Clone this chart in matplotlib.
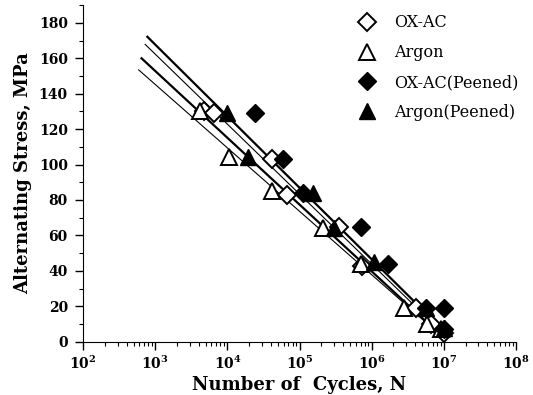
from matplotlib import pyplot as plt
from matplotlib.ticker import LogLocator, NullFormatter, MultipleLocator
import numpy as np

# cycles to failure and stress amplitude for each condition
ox_ac_n = [4.8e3, 6.5e3, 4.2e4, 6.8e4, 3.55e5, 7.4e5, 4.1e6, 6.6e6, 1.0e7]
ox_ac_s = [130, 129, 103, 83, 65, 43, 19, 10, 5]

argon_n = [4.2e3, 1.05e4, 4.1e4, 2.1e5, 7.1e5, 2.8e6, 5.9e6, 9.1e6]
argon_s = [130, 104, 85, 64, 44, 19, 10, 7]

ox_ac_peened_n = [2.45e4, 5.9e4, 1.12e5, 7.1e5, 1.66e6, 5.6e6, 1.0e7, 1.0e7]
ox_ac_peened_s = [129, 103, 84, 65, 44, 19, 19, 7]

argon_peened_n = [9.8e3, 1.9e4, 1.55e5, 3.0e5, 1.07e6, 5.6e6, 1.0e7]
argon_peened_s = [129, 104, 84, 64, 45, 19, 8]

# regression lines: S = a - b * log10(N), drawn between log10(N) limits
fit_a = [288.9, 280.8, 265.9, 252.6]
fit_b = [40.4, 39.5, 37.7, 35.8]
fit_lo = [2.89, 2.86, 2.81, 2.77]
fit_hi = [7.03, 7.00, 6.97, 6.96]
fit_lw = [1.6, 0.8, 1.6, 0.8]

fig = plt.figure(figsize=(5.33, 3.95), dpi=100)
ax = fig.add_axes([0.156, 0.135, 0.812, 0.852])

for a, b, lo, hi, lw in zip(fit_a, fit_b, fit_lo, fit_hi, fit_lw):
    logn = np.linspace(lo, hi, 2)
    ax.plot(10 ** logn, a - b * logn, color="black", lw=lw, zorder=2)

ms = 11
h1, = ax.plot(ox_ac_n, ox_ac_s, "D", ms=ms * 0.85, mfc="white", mec="black",
              mew=1.4, ls="none", zorder=3)
h2, = ax.plot(argon_n, argon_s, "^", ms=ms, mfc="white", mec="black",
              mew=1.4, ls="none", zorder=3)
h3, = ax.plot(ox_ac_peened_n, ox_ac_peened_s, "D", ms=ms * 0.85, color="black",
              ls="none", zorder=4)
h4, = ax.plot(argon_peened_n, argon_peened_s, "^", ms=ms, color="black",
              ls="none", zorder=4)

ax.set_xscale("log")
ax.set_xlim(1e2, 1e8)
ax.set_ylim(0, 190)
ax.set_yticks(np.arange(0, 181, 20))
ax.yaxis.set_minor_locator(MultipleLocator(10))
ax.xaxis.set_major_locator(LogLocator(base=10, numticks=10))
ax.xaxis.set_minor_locator(LogLocator(base=10, subs=np.arange(2, 10), numticks=20))
ax.xaxis.set_minor_formatter(NullFormatter())

ax.spines["top"].set_visible(False)
ax.spines["right"].set_visible(False)
ax.tick_params(which="major", direction="out", length=6, width=1)
ax.tick_params(axis="y", which="major", pad=5)
ax.tick_params(which="minor", direction="out", length=3, width=0.8)
for lab in ax.get_xticklabels() + ax.get_yticklabels():
    lab.set_fontfamily("DejaVu Serif")
    lab.set_fontweight("bold")
    lab.set_fontsize(10)

ax.set_xlabel("Number of  Cycles, N", family="DejaVu Serif", weight="bold",
              fontsize=13, labelpad=3)
ax.set_ylabel("Alternating Stress, MPa", family="DejaVu Serif", weight="bold",
              fontsize=13, labelpad=5)

leg = ax.legend((h1, h2, h3, h4),
                ("OX-AC", "Argon", "OX-AC(Peened)", "Argon(Peened)"),
                loc="upper right", bbox_to_anchor=(1.04, 1.015), frameon=False,
                numpoints=1, labelspacing=0.8, handletextpad=0.7,
                prop={"family": "DejaVu Serif", "size": 11.5})

fig.savefig("out.png", dpi=100)
